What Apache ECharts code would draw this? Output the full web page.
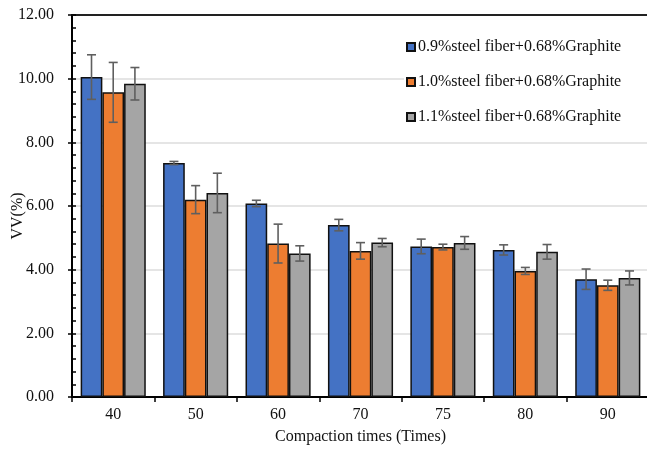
<!DOCTYPE html>
<html>
<head>
<meta charset="utf-8">
<script src="https://cdn.jsdelivr.net/npm/echarts@6/dist/echarts.min.js"></script>
<style>html,body{margin:0;padding:0;background:#fff}#c{width:647px;height:449px}</style>
</head>
<body>
<div id="c"></div>
<script>
var categories = ['40', '50', '60', '70', '75', '80', '90'];
var seriesNames = ['0.9%steel fiber+0.68%Graphite', '1.0%steel fiber+0.68%Graphite', '1.1%steel fiber+0.68%Graphite'];
var vv09 = [10.05, 7.35, 6.08, 5.40, 4.73, 4.62, 3.70];
var vv10 = [9.57, 6.20, 4.82, 4.59, 4.71, 3.96, 3.51];
var vv11 = [9.84, 6.41, 4.51, 4.85, 4.84, 4.56, 3.74];
var err09 = [0.70, 0.05, 0.10, 0.18, 0.23, 0.16, 0.32];
var err10 = [0.94, 0.44, 0.61, 0.26, 0.09, 0.11, 0.16];
var err11 = [0.51, 0.62, 0.24, 0.13, 0.20, 0.23, 0.22];
var yTicks = ['0.00', '2.00', '4.00', '6.00', '8.00', '10.00', '12.00'];
var yName = 'VV(%)';
var xName = 'Compaction times (Times)';

var colors = ['#4472C4', '#ED7D31', '#A5A5A5'];
var values = [vv09, vv10, vv11];
var errs = [err09, err10, err11];
var catGap = 0.21;
var font = 'Liberation Serif';

var series = [];
values.forEach(function (v, i) {
  series.push({
    name: seriesNames[i], type: 'bar', data: v,
    barGap: '0%', barCategoryGap: '21%',
    itemStyle: { color: colors[i], borderColor: '#111', borderWidth: 1.5 },
    z: 2
  });
});
values.forEach(function (v, i) {
  series.push({
    type: 'custom', name: 'err' + i, z: 5,
    data: v.map(function (val, k) { return [k, val, errs[i][k]]; }),
    renderItem: function (params, api) {
      var k = api.value(0), val = api.value(1), e = api.value(2);
      var bw = api.size([1, 0])[0] * (1 - catGap) / 3;
      var c = api.coord([k, val]);
      var x = c[0] + (i - 1) * bw;
      var yt = api.coord([k, val + e])[1];
      var yb = api.coord([k, val - e])[1];
      var cap = 4.5;
      var st = { stroke: '#5f5f5f', lineWidth: 1.6 };
      return { type: 'group', children: [
        { type: 'line', shape: { x1: x, y1: yt, x2: x, y2: yb }, style: st },
        { type: 'line', shape: { x1: x - cap, y1: yt, x2: x + cap, y2: yt }, style: st },
        { type: 'line', shape: { x1: x - cap, y1: yb, x2: x + cap, y2: yb }, style: st }
      ]};
    }
  });
});

var chart = echarts.init(document.getElementById('c'), null, { renderer: 'canvas' });
chart.setOption({
  animation: false,
  backgroundColor: '#fff',
  textStyle: { fontFamily: font },
  grid: { left: 72, top: 15, right: -2, bottom: 52, containLabel: false, outerBoundsMode: 'none' },
  graphic: [{
    type: 'text', x: 18, y: 216, rotation: Math.PI / 2,
    style: { text: yName, font: '16px "Liberation Serif"', fill: '#111', align: 'center', verticalAlign: 'middle' }
  }],
  legend: {
    data: seriesNames, orient: 'vertical', left: 404, top: 30,
    backgroundColor: '#fff', padding: [8, 30, 8, 2],
    itemWidth: 8, itemHeight: 8, itemGap: 17, icon: 'rect',
    textStyle: { fontFamily: font, fontSize: 16, color: '#111', lineHeight: 18, padding: [0, 0, 0, -2] }
  },
  xAxis: [{
    type: 'category', data: categories, position: 'bottom',
    name: xName, nameLocation: 'middle', nameGap: 32,
    nameTextStyle: { fontFamily: font, fontSize: 16, color: '#111' },
    axisLine: { lineStyle: { color: '#000', width: 2 } },
    axisTick: { show: true, length: 5, lineStyle: { color: '#000', width: 1.5 } },
    axisLabel: { fontFamily: font, fontSize: 16, color: '#111', margin: 10 }
  }, {
    type: 'category', data: categories, position: 'top',
    axisLine: { show: true, onZero: false, lineStyle: { color: '#222', width: 2 } },
    axisTick: { show: false }, axisLabel: { show: false }
  }],
  yAxis: [{
    type: 'value', min: 0, max: 12, interval: 2,
    axisLine: { show: true, lineStyle: { color: '#000', width: 2 } },
    axisTick: { show: true, length: 4, lineStyle: { color: '#000', width: 1.5 } },
    axisLabel: { fontFamily: font, fontSize: 16, color: '#111', margin: 18,
      formatter: function (v) { return yTicks[Math.round(v / 2)]; } },
    splitLine: { show: true, lineStyle: { color: '#dcdcdc', width: 1.5 } }
  }, {
    type: 'value', min: 0, max: 12, interval: 2, position: 'left',
    axisLine: { show: false },
    axisTick: { show: true, inside: true, length: 4, lineStyle: { color: '#000', width: 1.5 } },
    minorTick: { show: true, splitNumber: 5, length: 4, lineStyle: { color: '#000', width: 1.5 } },
    axisLabel: { show: false }, splitLine: { show: false }
  }],
  series: series
});
</script>
</body>
</html>
